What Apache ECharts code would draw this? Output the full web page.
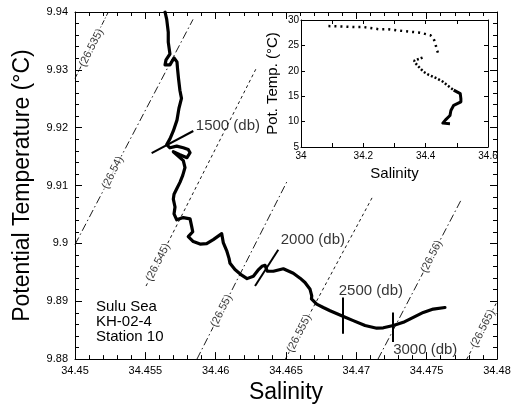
<!DOCTYPE html>
<html>
<head>
<meta charset="utf-8">
<script src="https://cdn.jsdelivr.net/npm/echarts@6/dist/echarts.min.js"></script>
<style>
html, body { margin: 0; padding: 0; background: #fff; }
#chart-container { width: 516px; height: 409px; }
</style>
</head>
<body>
<div id="chart-container"></div>
<script>
var dom = document.getElementById('chart-container');
var myChart = echarts.init(dom, null, {
  renderer: 'canvas',
  useDirtyRect: false
});

var FONT = 'Liberation Sans, Arial, Helvetica, sans-serif';

// deep profile, Sulu Sea KH-02-4 st.10
var salinity = [
  34.45640, 34.45652, 34.45663, 34.45663, 34.45675, 34.45647, 34.45640, 34.45675, 34.45704, 34.45725,
  34.45729, 34.45736, 34.45746, 34.45757, 34.45739, 34.45725, 34.45699, 34.45675, 34.45652, 34.45675,
  34.45723, 34.45770, 34.45805, 34.45818, 34.45796, 34.45746, 34.45699, 34.45770, 34.45782, 34.45766,
  34.45746, 34.45725, 34.45704, 34.45699, 34.45711, 34.45704, 34.45723, 34.45770, 34.45818, 34.45830,
  34.45837, 34.45805, 34.45841, 34.45889, 34.45936, 34.45983, 34.46043, 34.46054, 34.46078, 34.46095,
  34.46102, 34.46137, 34.46185, 34.46223, 34.46268, 34.46301, 34.46329, 34.46351, 34.46367, 34.46410,
  34.46481, 34.46552, 34.46600, 34.46635, 34.46671, 34.46683, 34.46681, 34.46718, 34.46765, 34.46813,
  34.46896, 34.46978, 34.47062, 34.47145, 34.47192, 34.47263, 34.47334, 34.47405, 34.47476, 34.47547,
  34.47630
];
var theta = [
  9.94000, 9.93872, 9.93650, 9.93479, 9.93274, 9.93172, 9.93087, 9.93087, 9.93206, 9.93138,
  9.93018, 9.92848, 9.92643, 9.92506, 9.92336, 9.92131, 9.91943, 9.91806, 9.91709, 9.91653,
  9.91682, 9.91653, 9.91624, 9.91567, 9.91482, 9.91533, 9.91584, 9.91431, 9.91311, 9.91175,
  9.91055, 9.90953, 9.90850, 9.90765, 9.90629, 9.90509, 9.90407, 9.90446, 9.90424, 9.90287,
  9.90202, 9.90116, 9.90031, 9.89988, 9.89997, 9.90065, 9.90168, 9.90014, 9.89877, 9.89741,
  9.89655, 9.89548, 9.89451, 9.89391, 9.89434, 9.89536, 9.89604, 9.89621, 9.89519, 9.89519,
  9.89562, 9.89485, 9.89399, 9.89323, 9.89206, 9.89092, 9.89041, 9.88950, 9.88892, 9.88836,
  9.88751, 9.88665, 9.88580, 9.88534, 9.88541, 9.88580, 9.88636, 9.88722, 9.88807, 9.88865,
  9.88892
];

// inset: whole cast
var insetSal = [
  34.088, 34.136, 34.179, 34.203, 34.248, 34.280, 34.318, 34.350, 34.382, 34.415,
  34.425, 34.431, 34.436, 34.441, 34.390, 34.363, 34.370, 34.393, 34.410, 34.436,
  34.457, 34.468, 34.490, 34.511, 34.513, 34.513, 34.490, 34.481, 34.478, 34.463,
  34.455, 34.478
];
var insetTheta = [
  28.8, 28.7, 28.6, 28.6, 28.2, 28.2, 27.9, 27.7, 27.5, 27.0,
  26.4, 25.4, 24.1, 23.3, 22.6, 22.0, 21.3, 19.8, 19.2, 18.5,
  17.8, 17.2, 16.2, 15.5, 14.5, 13.9, 13.2, 12.2, 11.2, 10.3,
  9.7, 9.6
];

// isopycnals (sigma-theta), end points and label spots
var sigmaNames = ['26.535', '26.54', '26.545', '26.55', '26.555', '26.56', '26.565'];
var sigmaFrom = [
  [34.45000, 9.92853], [34.45000, 9.89980], [34.45505, 9.89263], [34.45867, 9.88000],
  [34.46496, 9.88000], [34.47154, 9.88000], [34.47785, 9.88000]
];
var sigmaTo = [
  [34.45237, 9.94000], [34.45839, 9.93872], [34.46294, 9.93053], [34.46511, 9.91089],
  [34.47118, 9.90816], [34.47749, 9.90770], [34.48000, 9.88990]
];
var sigmaLabelAt = [
  [34.45116, 9.93379], [34.45268, 9.91225], [34.45590, 9.89672], [34.46041, 9.88834],
  [34.46594, 9.88445], [34.47535, 9.89773], [34.47899, 9.88525]
];
var sigmaDash = [[5, 2, 1, 2], [8, 3, 1.5, 3], [3, 3], [8, 3, 1.5, 3], [3, 3], [8, 3, 1.5, 3], [3, 3]];

// pressure marks
var pressureNames = ['1500 (db)', '2000 (db)', '2500 (db)', '3000 (db)'];
var pressureFrom = [[34.45545, 9.91559], [34.46280, 9.89263], [34.46900, 9.88438], [34.47258, 9.88295]];
var pressureTo = [[34.45841, 9.91943], [34.46445, 9.89889], [34.46900, 9.89063], [34.47258, 9.88807]];
var pressureLabelAt = [pressureTo[0], pressureTo[1], pressureTo[2], pressureFrom[3]];
var pressureLabelOffset = [[2, -5], [2, -10], [-4, -7], [0, 8]];

function zip(a, b) {
  return a.map(function (v, i) { return [v, b[i]]; });
}

function valueAxis(o) {
  var ax = {
    type: 'value',
    axisLine: { show: true, onZero: false, lineStyle: { color: '#000', width: 1 } },
    axisTick: { show: true, inside: true, length: o.tick, lineStyle: { color: '#000', width: 1 } },
    minorTick: { show: true, splitNumber: o.minor, length: o.minorLen, lineStyle: { color: '#000', width: 1 } },
    splitLine: { show: false },
    minorSplitLine: { show: false },
    axisLabel: { show: o.labels, color: '#000', fontSize: o.fontSize, fontFamily: FONT, margin: o.margin }
  };
  for (var k in o.extra) ax[k] = o.extra[k];
  return ax;
}

var series = [];

sigmaNames.forEach(function (name, i) {
  series.push({
    type: 'line',
    xAxisIndex: 0,
    yAxisIndex: 0,
    data: [sigmaFrom[i], sigmaTo[i]],
    showSymbol: false,
    silent: true,
    clip: true,
    lineStyle: { color: '#000', width: 0.9, type: sigmaDash[i] },
    z: 2
  });
});

series.push({
  type: 'scatter',
  xAxisIndex: 0,
  yAxisIndex: 0,
  symbolSize: 1,
  itemStyle: { color: 'rgba(0,0,0,0)' },
  data: sigmaNames.map(function (n, i) { return { name: n, value: sigmaLabelAt[i] }; }),
  label: {
    show: true,
    position: 'inside',
    rotate: 63,
    formatter: function (p) { return '(' + p.name + ')'; },
    fontSize: 11,
    fontFamily: FONT,
    color: '#000',
    backgroundColor: '#fff',
    padding: [0, 1]
  },
  z: 4
});

series.push({
  type: 'line',
  xAxisIndex: 0,
  yAxisIndex: 0,
  data: zip(salinity, theta),
  showSymbol: false,
  clip: true,
  lineStyle: { color: '#000', width: 3.2, join: 'round', cap: 'round' },
  z: 5
});

series.push({
  type: 'lines',
  coordinateSystem: 'cartesian2d',
  xAxisIndex: 0,
  yAxisIndex: 0,
  data: pressureFrom.map(function (p, i) { return { coords: [p, pressureTo[i]] }; }),
  lineStyle: { color: '#000', width: 2, opacity: 1 },
  z: 6
});

series.push({
  type: 'scatter',
  xAxisIndex: 0,
  yAxisIndex: 0,
  symbolSize: 1,
  itemStyle: { color: 'rgba(0,0,0,0)' },
  data: pressureNames.map(function (n, i) {
    return { name: n, value: pressureLabelAt[i], label: { offset: pressureLabelOffset[i] } };
  }),
  label: {
    show: true,
    position: 'right',
    distance: 0,
    formatter: '{b}',
    fontSize: 15,
    fontFamily: FONT,
    color: '#000'
  },
  z: 6
});

// inset
series.push({
  type: 'line',
  xAxisIndex: 2,
  yAxisIndex: 2,
  data: zip(insetSal, insetTheta).slice(0, 14),
  showSymbol: false,
  lineStyle: { color: '#000', width: 2.5, type: [2, 4] },
  z: 5
});
series.push({
  type: 'line',
  xAxisIndex: 2,
  yAxisIndex: 2,
  data: zip(insetSal, insetTheta).slice(14, 23),
  showSymbol: false,
  lineStyle: { color: '#000', width: 2.5, type: [2, 2] },
  z: 5
});
series.push({
  type: 'line',
  xAxisIndex: 2,
  yAxisIndex: 2,
  data: zip(insetSal, insetTheta).slice(22),
  showSymbol: false,
  lineStyle: { color: '#000', width: 3, join: 'round' },
  z: 5
});

var option = {
  animation: false,
  backgroundColor: '#fff',
  grid: [
    { left: 75, top: 12, width: 422, height: 352 },
    { left: 301, top: 20, width: 187, height: 127 }
  ],
  xAxis: [
    valueAxis({ tick: 7, minor: 5, minorLen: 4, labels: true, fontSize: 11, margin: 6, extra: {
      gridIndex: 0, position: 'bottom', min: 34.45, max: 34.48, interval: 0.005,
      name: 'Salinity', nameLocation: 'middle', nameGap: 19,
      nameTextStyle: { fontSize: 23, color: '#000', fontFamily: FONT }
    } }),
    valueAxis({ tick: 7, minor: 5, minorLen: 4, labels: false, fontSize: 11, margin: 6, extra: {
      gridIndex: 0, position: 'top', min: 34.45, max: 34.48, interval: 0.005
    } }),
    valueAxis({ tick: 4, minor: 2, minorLen: 4, labels: true, fontSize: 10, margin: 4, extra: {
      gridIndex: 1, position: 'bottom', min: 34, max: 34.6, interval: 0.2,
      name: 'Salinity', nameLocation: 'middle', nameGap: 19,
      nameTextStyle: { fontSize: 15, color: '#000', fontFamily: FONT }
    } }),
    valueAxis({ tick: 4, minor: 2, minorLen: 4, labels: false, fontSize: 10, margin: 4, extra: {
      gridIndex: 1, position: 'top', min: 34, max: 34.6, interval: 0.2
    } })
  ],
  yAxis: [
    valueAxis({ tick: 7, minor: 5, minorLen: 4, labels: true, fontSize: 11, margin: 7, extra: {
      gridIndex: 0, position: 'left', min: 9.88, max: 9.94, interval: 0.01,
      name: 'Potential Temperature (°C)', nameLocation: 'middle', nameGap: 41,
      nameTextStyle: { fontSize: 23, color: '#000', fontFamily: FONT }
    } }),
    valueAxis({ tick: 7, minor: 5, minorLen: 4, labels: false, fontSize: 11, margin: 7, extra: {
      gridIndex: 0, position: 'right', min: 9.88, max: 9.94, interval: 0.01
    } }),
    valueAxis({ tick: 4, minor: 1, minorLen: 0, labels: true, fontSize: 10, margin: 2, extra: {
      gridIndex: 1, position: 'left', min: 5, max: 30, interval: 5,
      name: 'Pot. Temp. (°C)', nameLocation: 'middle', nameGap: 21,
      nameTextStyle: { fontSize: 15, color: '#000', fontFamily: FONT }
    } }),
    valueAxis({ tick: 4, minor: 1, minorLen: 0, labels: false, fontSize: 10, margin: 2, extra: {
      gridIndex: 1, position: 'right', min: 5, max: 30, interval: 5
    } })
  ],
  graphic: [
    {
      type: 'text',
      left: 96,
      top: 299,
      style: {
        text: 'Sulu Sea\nKH-02-4\nStation 10',
        fontSize: 15,
        lineHeight: 15,
        fontFamily: FONT,
        fill: '#000'
      }
    }
  ],
  series: series
};

if (option && typeof option === 'object') {
  myChart.setOption(option);
}

window.addEventListener('resize', myChart.resize);
</script>
</body>
</html>
